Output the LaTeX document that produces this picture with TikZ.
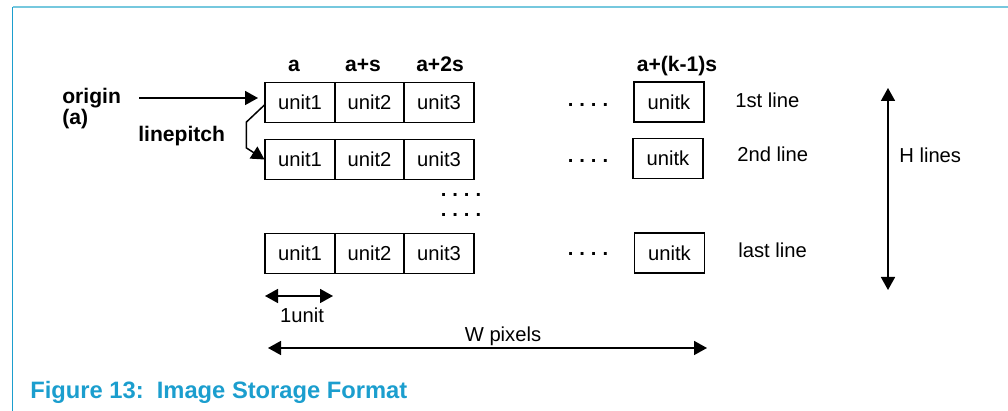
\documentclass[tikz,border=0pt]{standalone}
\usepackage{fontspec}
\setmainfont{Liberation Sans}
\usetikzlibrary{arrows.meta,positioning}
\definecolor{capblue}{RGB}{27,158,206}
\definecolor{rulelite}{RGB}{118,200,222}
\newcommand{\dotrow}{.\hspace{3.4pt}.\hspace{3.4pt}.\hspace{3.4pt}.}

\begin{document}
\begin{tikzpicture}[
 x=0.02cm, y=-0.02cm,
 cell/.style={draw, line width=0.9pt, minimum width=1.39cm, minimum height=0.8cm,
 inner sep=0pt, font=\fontsize{11.5}{13}\selectfont},
 kcell/.style={cell, minimum width=1.4cm},
 lbl/.style={anchor=base, inner sep=0pt, font=\fontsize{11.5}{13}\selectfont},
 hdr/.style={anchor=base, inner sep=0pt, font=\fontsize{12}{13}\selectfont\bfseries},
 dots/.style={anchor=base, inner sep=0pt, font=\fontsize{11.5}{13}\selectfont\bfseries},
 arr/.style={-{Triangle[length=7.4pt, width=8pt]}, line width=0.85pt},
 dimarr/.style={{Triangle[length=7.4pt, width=8pt]}-{Triangle[length=7.4pt, width=8pt]}, line width=0.85pt}
]
\useasboundingbox (0,0) rectangle (1008,411);

% Frame
\draw[rulelite, line width=1.4pt] (12.5,7) -- (1008,7);
\draw[capblue, line width=0.6pt] (12.5,7) -- (12.5,411);

% Column addresses
\node[hdr] (ha) at (294,71.5) {a};
\node[hdr] (hs) at (363,71.5) {a+s};
\node[hdr] (h2s) at (440,71.5) {a+2s};
\node[hdr] (hk) at (677,71.5) {a+(k-1)s};

% 1st line
\node[cell] (u11) at (300,102.5) {unit1};
\node[cell] (u12) at (369.5,102.5) {unit2};
\node[cell] (u13) at (439,102.5) {unit3};
\node[dots] (d1) at (588,106.5) {\dotrow};
\node[kcell] (uk1) at (669,102) {unitk};
\node[lbl, anchor=base west] (l1) at (735,108) {1st line};

% 2nd line
\node[cell] (u21) at (300,159.5) {unit1};
\node[cell] (u22) at (369.5,159.5) {unit2};
\node[cell] (u23) at (439,159.5) {unit3};
\node[dots] (d2) at (588,163) {\dotrow};
\node[kcell] (uk2) at (668,158.5) {unitk};
\node[lbl, anchor=base west] (l2) at (737,162) {2nd line};

% skipped lines
\node[dots] (dm1) at (461,196.5) {\dotrow};
\node[dots] (dm2) at (461,217) {\dotrow};

% last line
\node[cell] (u31) at (300,253.5) {unit1};
\node[cell] (u32) at (369.5,253.5) {unit2};
\node[cell] (u33) at (439,253.5) {unit3};
\node[dots] (d3) at (588,256) {\dotrow};
\node[kcell] (uk3) at (669.5,253) {unitk};
\node[lbl, anchor=base west] (l3) at (738,258) {last line};

% origin and linepitch
\node[hdr, anchor=base west] (org) at (62,104) {origin};
\node[hdr, anchor=base west] (orga) at (62,124.5) {(a)};
\coordinate (os) at (139,98);
\coordinate (oe) at (258,98);
\draw[arr] (os) -- (oe);
\node[hdr, anchor=base west] (lp) at (138,141.5) {linepitch};
\draw[arr] ([yshift=-0.05cm]u11.west) -- ++(-18,17) -- ++(0,26) -- (u21.west);

% H lines
\coordinate (ht) at (888,88);
\coordinate (hb) at (888,290);
\draw[dimarr] (ht) -- (hb);
\node[lbl, anchor=base west] (hl) at (899,163) {H lines};

% 1unit
\coordinate (ul) at (265,296);
\coordinate (ur) at (333,296);
\draw[dimarr] (ul) -- (ur);
\node[lbl] (ut) at (302,323) {1unit};

% W pixels
\coordinate (wl) at (268,348);
\coordinate (wr) at (707,348);
\draw[dimarr] (wl) -- (wr);
\node[lbl] (wt) at (503,342) {W pixels};

% Caption
\node[anchor=base west, inner sep=0pt, capblue, font=\fontsize{13.5}{15}\selectfont\bfseries]
 (cap) at (30,399) {Figure 13:\ \ Image Storage Format};
\end{tikzpicture}
\end{document}
